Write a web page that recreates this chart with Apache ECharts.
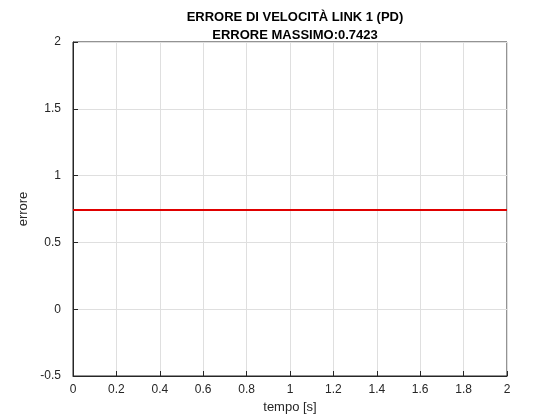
<!DOCTYPE html>
<html style="height: 100%">
<head>
<meta charset="utf-8">
<script src="https://cdn.jsdelivr.net/npm/echarts@6/dist/echarts.min.js"></script>
</head>
<body style="height: 100%; margin: 0; background: #fff">
<div id="container" style="width: 560px; height: 420px"></div>
<script type="text/javascript">
// time samples and velocity error (constant)
let tempo = [0, 0.5, 1, 1.5, 2];
let errore = [0.7423, 0.7423, 0.7423, 0.7423, 0.7423];
let errMax = 0.7423;

let chart = echarts.init(document.getElementById('container'));
let axisCommon = {
    axisLine: { show: true, onZero: false, lineStyle: { color: '#262626', width: 1 } },
    axisTick: { show: true, inside: true, length: 5, lineStyle: { color: '#262626' } },
    axisLabel: { color: '#262626', fontSize: 12, fontFamily: 'Arial, Liberation Sans' },
    splitLine: { show: true, lineStyle: { color: '#dfdfdf', width: 1 } },
    nameTextStyle: { color: '#262626', fontSize: 13, fontFamily: 'Arial, Liberation Sans' }
};
chart.setOption({
    animation: false,
    title: {
        text: 'ERRORE DI VELOCITÀ LINK 1 (PD)\nERRORE MASSIMO:' + errMax,
        left: 290, top: 3, textAlign: 'center',
        textStyle: { fontSize: 13, fontWeight: 'bold', color: '#000', lineHeight: 18,
                     fontFamily: 'Arial, Liberation Sans' }
    },
    grid: { left: 73, right: 53, top: 42, bottom: 44, show: true, borderColor: '#262626', borderWidth: 1 },
    xAxis: Object.assign({}, axisCommon, {
        type: 'value', min: 0, max: 2, interval: 0.2,
        name: 'tempo [s]', nameLocation: 'middle', nameGap: 24,
        axisLabel: Object.assign({}, axisCommon.axisLabel, {
            formatter: v => +v.toFixed(1) + '' })
    }),
    yAxis: Object.assign({}, axisCommon, {
        type: 'value', min: -0.5, max: 2, interval: 0.5,
        name: 'errore', nameLocation: 'middle', nameGap: 30,
        axisLabel: Object.assign({}, axisCommon.axisLabel, { margin: 12 })
    }),
    series: [{
        type: 'line', showSymbol: false,
        data: tempo.map((t, i) => [t, errore[i]]),
        lineStyle: { color: '#e00000', width: 2 }
    }]
});
</script>
</body>
</html>
